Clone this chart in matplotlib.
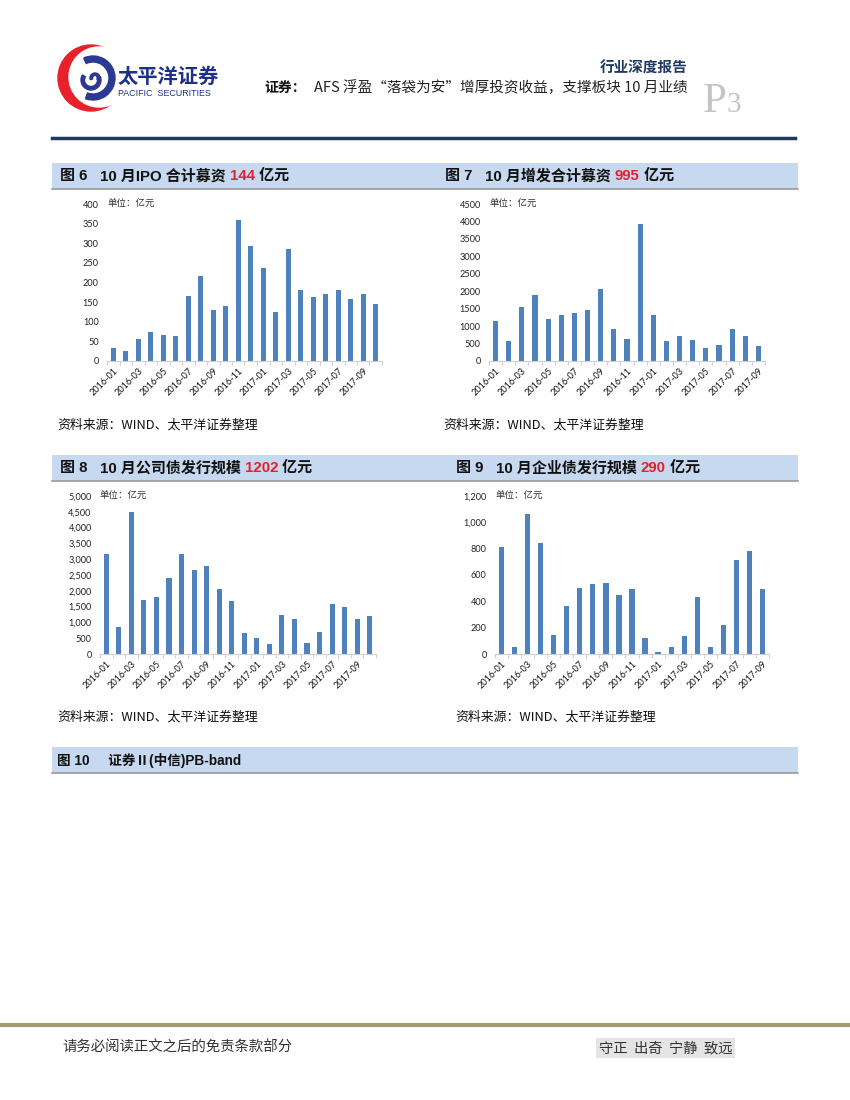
import matplotlib
matplotlib.use("Agg")
import matplotlib.pyplot as plt
from matplotlib.patches import Rectangle, Circle, Wedge
from matplotlib.ticker import FuncFormatter, MultipleLocator

# ---------------- data ----------------
months_22 = ["2016-01", "2016-02", "2016-03", "2016-04", "2016-05", "2016-06",
             "2016-07", "2016-08", "2016-09", "2016-10", "2016-11", "2016-12",
             "2017-01", "2017-02", "2017-03", "2017-04", "2017-05", "2017-06",
             "2017-07", "2017-08", "2017-09", "2017-10"]
months_21 = months_22[:21]

ipo_values = [32, 25, 56, 74, 67, 63, 165, 217, 131, 141, 358, 292,
              237, 124, 285, 180, 164, 170, 182, 158, 170, 144]
placement_values = [1146, 573, 1538, 1901, 1213, 1328, 1375, 1471, 2054, 917, 621,
                    3926, 1309, 583, 726, 611, 382, 468, 927, 726, 440]
corp_bond_values = [3150, 846, 4493, 1723, 1818, 2400, 3171, 2643, 2780, 2061, 1670,
                    666, 497, 317, 1247, 1120, 349, 687, 1586, 1501, 1110, 1202]
ent_bond_values = [815, 51, 1061, 841, 147, 362, 501, 532, 539, 446, 494,
                   124, 18, 51, 139, 433, 51, 220, 714, 780, 491]

titles = [
    ("图 6", "10 月IPO 合计募资 ", "144", " 亿元"),
    ("图 7", "10 月增发合计募资 ", "995", " 亿元"),
    ("图 8", "10 月公司债发行规模 ", "1202", " 亿元"),
    ("图 9", "10 月企业债发行规模 ", "290", " 亿元"),
]
source_text = "资料来源：WIND、太平洋证券整理"
unit_text = "单位：亿元"

# ---------------- figure ----------------
W, H = 850, 1100
fig = plt.figure(figsize=(8.5, 11), dpi=100)
fig.patch.set_facecolor("white")

CJK = ["Noto Sans CJK SC", "DejaVu Sans"]
TITLE_FONT = ["Liberation Sans", "Noto Sans CJK SC"]
NUM_FONT = ["Lato", "DejaVu Sans"]

BAR = "#4f81bd"
BAND = "#c6d9f1"
NAVY = "#1f3864"


def fx(x):
    return x / W


def fy(y):
    return 1 - y / H


renderer = fig.canvas.get_renderer()


def rich(x, y, parts, size=10, weight="bold", family=TITLE_FONT):
    cur = fx(x)
    for txt, col in parts:
        t = fig.text(cur, fy(y), txt, color=col, fontsize=size, weight=weight,
                     family=family, va="center", ha="left")
        ext = t.get_window_extent(renderer)
        cur += ext.width / W


def band(x0, x1, y0, y1):
    fig.patches.append(Rectangle((fx(x0), fy(y1)), fx(x1) - fx(x0), fy(y0) - fy(y1),
                                 transform=fig.transFigure, facecolor=BAND,
                                 edgecolor="none", zorder=0))
    fig.lines.append(plt.Line2D([fx(x0), fx(x1)], [fy(y1), fy(y1)],
                                transform=fig.transFigure, color="#9a9a9a", lw=1.2))


# ---------------- header ----------------
logo = fig.add_axes([fx(55), fy(114), fx(70), 70 / H])
logo.set_xlim(0, 70)
logo.set_ylim(0, 70)
logo.set_aspect("equal")
logo.axis("off")
logo.add_patch(Circle((36, 36), 33, color="#e8202a"))
logo.add_patch(Circle((44, 37), 30, color="white"))
logo.add_patch(Wedge((38, 36), 22, -110, 115, width=6, color="#2b3990"))
logo.add_patch(Wedge((36, 34), 10, 150, 20, width=3.5, color="#2b3990"))
logo.add_patch(Wedge((40, 36), 5, -30, 200, width=2.5, color="#2b3990"))

fig.text(fx(117), fy(76), "太平洋证券", fontsize=14.6, weight="bold", color="#1d2f87",
         family=CJK, va="center", ha="left")
fig.text(fx(118), fy(94), "PACIFIC  SECURITIES", fontsize=6.4, color="#1d2f87",
         family=["Liberation Sans"], va="center", ha="left")

fig.text(fx(688), fy(68), "行业深度报告", fontsize=10.5, weight="bold", color=NAVY,
         family=CJK, va="center", ha="right")
rich(264, 88, [("证券：", "#111111")], size=10, weight="bold", family=CJK)
fig.text(fx(688), fy(88), "AFS 浮盈“落袋为安”增厚投资收益，支撑板块 10 月业绩",
         fontsize=10.5, color="#222222", family=CJK, va="center", ha="right")
fig.text(fx(703), fy(112), "P", fontsize=31, color="#c4c4c4",
         family=["Liberation Serif"], va="baseline", ha="left")
fig.text(fx(727), fy(112), "3", fontsize=21, color="#c4c4c4",
         family=["Liberation Serif"], va="baseline", ha="left")

fig.lines.append(plt.Line2D([fx(52), fx(795)], [fy(138), fy(138)],
                            transform=fig.transFigure, color=NAVY, lw=2.5))

# ---------------- bands / titles ----------------
band(52, 798, 163, 189)
band(52, 798, 455, 481)
band(52, 798, 747, 773)

TS = 10.8
GAP = "   "
rich(60, 176, [(titles[0][0] + GAP, "#111111"), (titles[0][1], "#111111"),
               (titles[0][2], "#e8202a"), (titles[0][3], "#111111")], size=TS)
rich(445, 176, [(titles[1][0] + GAP, "#111111"), (titles[1][1], "#111111"),
                (titles[1][2], "#e8202a"), (titles[1][3], "#111111")], size=TS)
rich(60, 468, [(titles[2][0] + GAP, "#111111"), (titles[2][1], "#111111"),
               (titles[2][2], "#e8202a"), (titles[2][3], "#111111")], size=TS)
rich(456, 468, [(titles[3][0] + GAP, "#111111"), (titles[3][1], "#111111"),
                (titles[3][2], "#e8202a"), (titles[3][3], "#111111")], size=TS)
rich(57, 760, [("图 10     证券Ⅱ(中信)PB-band", "#111111")], size=9.8)

for (sx, sy) in [(57, 425), (443, 425), (57, 717), (455, 717)]:
    fig.text(fx(sx), fy(sy), source_text, fontsize=9.3, color="#111111",
             family=CJK, va="center", ha="left")


# ---------------- bar charts ----------------
def bar_chart(left, right, top, bottom, labels, values, ymax, step, comma):
    ax = fig.add_axes([fx(left), fy(bottom), fx(right) - fx(left), (bottom - top) / H])
    x = list(range(len(values)))
    ax.bar(x, values, width=0.4, color=BAR, zorder=2)
    ax.set_xlim(-0.5, len(values) - 0.5)
    ax.set_ylim(0, ymax)
    ax.yaxis.set_major_locator(MultipleLocator(step))
    if comma:
        ax.yaxis.set_major_formatter(FuncFormatter(lambda v, p: f"{int(v):,}"))
    else:
        ax.yaxis.set_major_formatter(FuncFormatter(lambda v, p: f"{int(v)}"))
    for s in ["top", "right", "left"]:
        ax.spines[s].set_visible(False)
    ax.spines["bottom"].set_color("#d0d0d0")
    ax.spines["bottom"].set_linewidth(0.8)
    ax.tick_params(axis="y", length=0, labelsize=6.6, colors="#222222", pad=6)
    ax.set_xticks(x[::2])
    ax.set_xticklabels(labels[::2], rotation=45, ha="right", rotation_mode="anchor",
                       fontsize=6.6, family=NUM_FONT, color="#111111")
    ax.set_xticks([i - 0.5 for i in range(len(values) + 1)], minor=True)
    ax.tick_params(axis="x", which="major", length=0, pad=4)
    ax.tick_params(axis="x", which="minor", length=3, color="#d0d0d0", width=0.8)
    for lab in ax.get_yticklabels():
        lab.set_family(NUM_FONT)
    ax.text(0.0, 1.0, unit_text, transform=ax.transAxes, fontsize=6.8,
            color="#333333", family=CJK, va="center", ha="left")
    ax.patch.set_alpha(0)
    return ax


bar_chart(107, 382, 204, 361, months_22, ipo_values, 400, 50, False)
bar_chart(489, 765, 204, 361, months_21, placement_values, 4500, 500, False)
bar_chart(100, 376, 496, 654, months_22, corp_bond_values, 5000, 500, True)
bar_chart(495, 769, 496, 654, months_21, ent_bond_values, 1200, 200, True)

# ---------------- footer ----------------
fig.lines.append(plt.Line2D([0, 1], [fy(1025), fy(1025)],
                            transform=fig.transFigure, color="#a39d6e", lw=3))
fig.text(fx(62), fy(1048), "请务必阅读正文之后的免责条款部分", fontsize=10.4,
         color="#333333", family=CJK, va="center", ha="left")
fig.text(fx(599), fy(1048), "守正  出奇  宁静  致远", fontsize=10.3, color="#333333",
         family=CJK, va="center", ha="left",
         bbox=dict(facecolor="#e4e4e4", edgecolor="none", pad=2))

fig.savefig("out.png", dpi=100, facecolor="white")
